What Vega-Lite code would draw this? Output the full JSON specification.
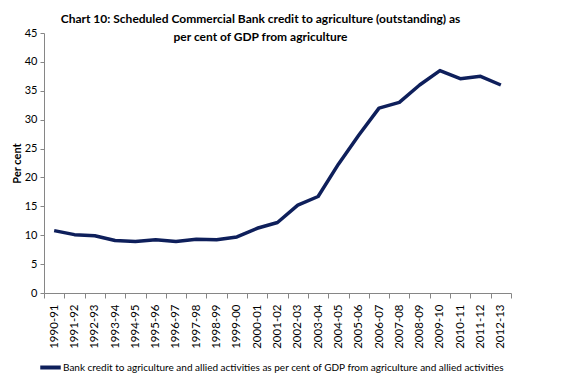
{
  "$schema": "https://vega.github.io/schema/vega-lite/v6.json",
  "width": 467,
  "height": 260,
  "autosize": {"type": "none"},
  "padding": {"left": 44, "top": 33, "right": 65, "bottom": 92},
  "background": "white",
  "title": {
    "text": ["Chart 10: Scheduled Commercial Bank credit to agriculture (outstanding) as", "per cent of GDP from agriculture"],
    "font": "Lato",
    "fontSize": 12,
    "fontWeight": "bold",
    "color": "#000000",
    "anchor": "middle",
    "dx": -17,
    "lineHeight": 18,
    "offset": -17
  },
  "data": {
    "values": [
      {"year": "1990-91", "value": 10.8},
      {"year": "1991-92", "value": 10.1},
      {"year": "1992-93", "value": 9.9},
      {"year": "1993-94", "value": 9.1},
      {"year": "1994-95", "value": 8.9},
      {"year": "1995-96", "value": 9.2},
      {"year": "1996-97", "value": 8.9},
      {"year": "1997-98", "value": 9.3},
      {"year": "1998-99", "value": 9.2},
      {"year": "1999-00", "value": 9.7},
      {"year": "2000-01", "value": 11.2},
      {"year": "2001-02", "value": 12.2},
      {"year": "2002-03", "value": 15.2},
      {"year": "2003-04", "value": 16.7},
      {"year": "2004-05", "value": 22.3},
      {"year": "2005-06", "value": 27.3},
      {"year": "2006-07", "value": 32.0},
      {"year": "2007-08", "value": 33.0},
      {"year": "2008-09", "value": 36.0},
      {"year": "2009-10", "value": 38.5},
      {"year": "2010-11", "value": 37.1},
      {"year": "2011-12", "value": 37.5},
      {"year": "2012-13", "value": 36.0}
    ]
  },
  "mark": {"type": "line", "strokeWidth": 3.5, "strokeJoin": "round"},
  "encoding": {
    "x": {
      "field": "year",
      "type": "nominal",
      "sort": null,
      "bandPosition": 0.5,
      "scale": {"type": "band", "paddingInner": 0, "paddingOuter": 0},
      "axis": {
        "title": null,
        "labelAngle": 270,
        "labelAlign": "right",
        "labelBaseline": "middle",
        "labelPadding": 6,
        "labelFont": "Lato",
        "labelFontSize": 11.5,
        "labelColor": "#000000",
        "tickBand": "extent",
        "tickSize": 5,
        "tickColor": "#868686",
        "domainColor": "#868686",
        "grid": false
      }
    },
    "y": {
      "field": "value",
      "type": "quantitative",
      "scale": {"domain": [0, 45], "nice": false},
      "axis": {
        "title": "Per cent",
        "titleFont": "Lato",
        "titleFontSize": 11,
        "titleFontWeight": "bold",
        "titleColor": "#000000",
        "titlePadding": 2,
        "values": [0, 5, 10, 15, 20, 25, 30, 35, 40, 45],
        "labelFont": "Lato",
        "labelFontSize": 11,
        "labelColor": "#000000",
        "labelPadding": 3,
        "tickSize": 4,
        "tickColor": "#868686",
        "domainColor": "#868686",
        "grid": false
      }
    },
    "color": {
      "datum": "Bank credit to agriculture and allied activities as per cent of GDP from agriculture and allied activities",
      "type": "nominal",
      "scale": {"range": ["#0E1F5B"]},
      "legend": {
        "title": null,
        "orient": "none",
        "legendX": -6,
        "legendY": 322,
        "symbolType": "stroke",
        "symbolSize": 420,
        "symbolStrokeWidth": 4,
        "labelFont": "Lato",
        "labelFontSize": 10,
        "labelColor": "#000000",
        "labelOffset": 0,
        "labelLimit": 600
      }
    }
  },
  "config": {"view": {"stroke": null}}
}
